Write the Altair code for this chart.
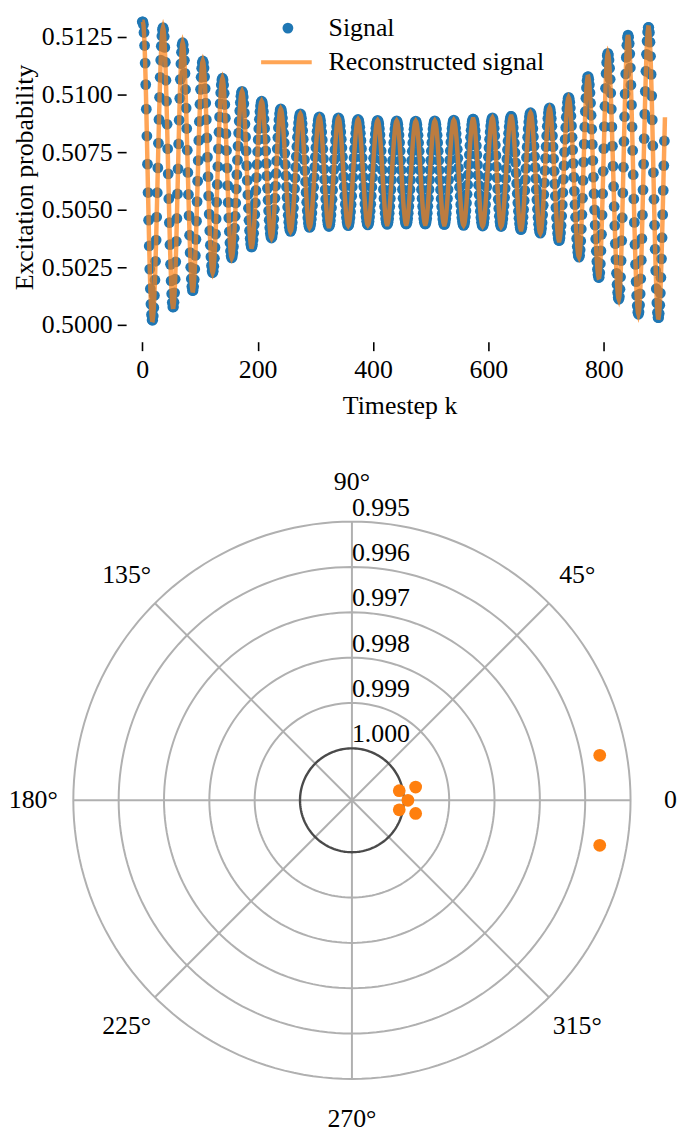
import numpy as np
import pandas as pd
import altair as alt

# ---------------- top panel: signal extremes ----------------
peak_k = [1, 36, 70, 105, 139, 173, 207, 240, 274, 307, 340, 374, 408, 441, 474, 507,
          540, 573.5, 607, 639.5, 673, 706, 739, 772.5, 807, 842, 877.5, 913]
peak_v = [0.51316, 0.51291, 0.51225, 0.51146, 0.51071, 0.51014, 0.50971, 0.50938,
          0.50916, 0.50903, 0.50899, 0.50892, 0.50888, 0.50886, 0.50885, 0.50886,
          0.50889, 0.50894, 0.50899, 0.50906, 0.50921, 0.50942, 0.50988, 0.51079,
          0.51179, 0.51258, 0.51294, 0.51300]
trough_k = [17.5, 53.5, 87.5, 122, 155, 189.5, 224, 257, 290, 323.5, 357, 391, 424.5,
            457.5, 490.5, 523.5, 557, 590, 622, 656.5, 690, 722.5, 757, 791.5, 826,
            860, 894.5]
trough_v = [0.50018, 0.50075, 0.50147, 0.50226, 0.50291, 0.50337, 0.50377, 0.50406,
            0.50423, 0.50427, 0.50431, 0.50434, 0.50436, 0.50437, 0.50437, 0.50435,
            0.50432, 0.50429, 0.50427, 0.50413, 0.50398, 0.50365, 0.50294, 0.50204,
            0.50111, 0.50046, 0.50029]
signal_last_k = 905
recon_last_k = 906

x_ticks = [0, 200, 400, 600, 800]
y_ticks = [0.5000, 0.5025, 0.5050, 0.5075, 0.5100, 0.5125]

# ---------------- bottom panel: polar plot ----------------
ring_vals = [0.995, 0.996, 0.997, 0.998, 0.999]
unit_circle_val = [1.000]
radial_tick_vals = [0.995, 0.996, 0.997, 0.998, 0.999, 1.000]
radial_tick_labels = ["0.995", "0.996", "0.997", "0.998", "0.999", "1.000"]
angle_vals = [0, 45, 90, 135, 180, 225, 270, 315]
angle_labels = ["0", "45°", "90°", "135°", "180°", "225°", "270°", "315°"]
eig_angle = [0.0, 11.4, -11.4, 11.7, -11.7, 10.3, -10.3]
eig_radius = [0.99991, 1.00008, 1.00008, 0.99971, 0.99971, 0.99559, 0.99559]
r_center = 1.001145  # radial value at the pole (inverted radial axis)

# ---------------- build the series from the extremes ----------------
ext = sorted(list(zip(peak_k, peak_v)) + list(zip(trough_k, trough_v)))
ek = np.array([e[0] for e in ext], dtype=float)
ev = np.array([e[1] for e in ext], dtype=float)


def shape(k):
    k = np.asarray(k, dtype=float)
    i = np.clip(np.searchsorted(ek, k, side="right") - 1, 0, len(ek) - 2)
    t = np.clip((k - ek[i]) / (ek[i + 1] - ek[i]), 0, 1)
    return ev[i] + (ev[i + 1] - ev[i]) * (1 - np.cos(np.pi * t)) / 2


k_sig = np.arange(0, signal_last_k + 1)
k_rec = np.arange(0, recon_last_k + 1)
sig = pd.DataFrame({"k": k_sig, "v": shape(k_sig), "s": "Signal"})
rec = pd.DataFrame({"k": k_rec, "v": shape(k_rec), "s": "Reconstructed signal"})

FONT = "Liberation Serif"
FS = 26

xs = alt.Scale(domain=[-28, 920], nice=False, zero=False)
ys = alt.Scale(domain=[0.499267, 0.513578], nice=False, zero=False)

x_enc = alt.X("k:Q", scale=xs,
              axis=alt.Axis(values=x_ticks, title="Timestep k", labelPadding=6,
                            titlePadding=10, format="d"))
y_enc = alt.Y("v:Q", scale=ys,
              axis=alt.Axis(values=y_ticks, format=".4f", title="Excitation probability",
                            labelPadding=5, titlePadding=4))

pts = alt.Chart(sig).mark_circle(size=118, opacity=1).encode(
    x=x_enc, y=y_enc,
    fill=alt.Fill("s:N", scale=alt.Scale(domain=["Signal"], range=["#1f77b4"]),
                  legend=alt.Legend(title=None, orient="none", legendX=150, legendY=3,
                                    padding=0, symbolSize=118, symbolType="circle",
                                    labelOffset=28, labelLimit=0, labelFont=FONT,
                                    labelFontSize=FS, labelColor="black")),
)
line = alt.Chart(rec).mark_line(strokeWidth=4.5, opacity=0.7).encode(
    x="k:Q", y="v:Q",
    stroke=alt.Stroke("s:N", scale=alt.Scale(domain=["Reconstructed signal"], range=["#ff7f0e"]),
                      legend=alt.Legend(title=None, orient="none", legendX=134, legendY=23,
                                        padding=0, symbolType="stroke", symbolSize=2600,
                                        symbolStrokeWidth=4, symbolOpacity=0.7,
                                        labelOffset=15, labelLimit=0, labelFont=FONT,
                                        labelFontSize=FS, labelColor="black")),
)
top = alt.layer(pts, line).properties(width=551, height=332)

# ---------------- polar panel drawn on x/y scales ----------------
R_PX = 280.7                      # pixel radius of the 0.995 ring
PW, PH = 455, 570                 # panel size
K = R_PX / (r_center - min(ring_vals))   # px per radial unit
px = alt.Scale(domain=[-PW / 2 / K, PW / 2 / K], nice=False, zero=False)
py = alt.Scale(domain=[-PH / 2 / K, PH / 2 / K], nice=False, zero=False)
LABEL_RHO = 321 / K

# circle outlines (geometry of the grid rings)
th = np.radians(np.arange(0, 361, 2))
ring_rows = []
for rv in ring_vals + unit_circle_val:
    rho = r_center - rv
    for i, t in enumerate(th):
        ring_rows.append({"ring": rv, "i": i, "x": rho * np.cos(t), "y": rho * np.sin(t),
                          "unit": rv in unit_circle_val})
ring_df = pd.DataFrame(ring_rows)

rings = alt.Chart(ring_df).transform_filter("!datum.unit").mark_line(
    stroke="#b0b0b0", strokeWidth=2).encode(
    x=alt.X("x:Q", scale=px, axis=None), y=alt.Y("y:Q", scale=py, axis=None),
    detail="ring:N", order="i:Q",
)
unit = alt.Chart(ring_df).transform_filter("datum.unit").mark_line(
    stroke="#4a4a4a", strokeWidth=2.4).encode(
    x=alt.X("x:Q", scale=px, axis=None), y=alt.Y("y:Q", scale=py, axis=None),
    detail="ring:N", order="i:Q",
)
rays = alt.Chart(pd.DataFrame({"a": angle_vals})).transform_calculate(
    x0="0", y0="0",
    x1=f"{r_center - min(ring_vals)} * cos(datum.a * PI / 180)",
    y1=f"{r_center - min(ring_vals)} * sin(datum.a * PI / 180)",
).mark_rule(stroke="#b0b0b0", strokeWidth=2).encode(
    x=alt.X("x0:Q", scale=px, axis=None), y=alt.Y("y0:Q", scale=py, axis=None),
    x2="x1:Q", y2="y1:Q",
)
eig = alt.Chart(pd.DataFrame({"a": eig_angle, "r": eig_radius})).transform_calculate(
    x=f"({r_center} - datum.r) * cos(datum.a * PI / 180)",
    y=f"({r_center} - datum.r) * sin(datum.a * PI / 180)",
).mark_circle(size=165, color="#ff7f0e", opacity=1).encode(
    x=alt.X("x:Q", scale=px, axis=None), y=alt.Y("y:Q", scale=py, axis=None),
)
rlab = alt.Chart(pd.DataFrame({"r": radial_tick_vals, "t": radial_tick_labels})).transform_calculate(
    x="0", y=f"{r_center} - datum.r",
).mark_text(font=FONT, fontSize=FS, color="black", align="left",
            baseline="alphabetic", dy=-6).encode(
    x=alt.X("x:Q", scale=px, axis=None), y=alt.Y("y:Q", scale=py, axis=None), text="t:N",
)
alab = alt.Chart(pd.DataFrame({"a": angle_vals, "t": angle_labels})).transform_calculate(
    x=f"{LABEL_RHO} * cos(datum.a * PI / 180)",
    y=f"{LABEL_RHO} * sin(datum.a * PI / 180)",
).mark_text(font=FONT, fontSize=FS, color="black", align="center",
            baseline="middle").encode(
    x=alt.X("x:Q", scale=px, axis=None), y=alt.Y("y:Q", scale=py, axis=None), text="t:N",
)
polar = alt.layer(rings, rays, unit, eig, rlab, alab).properties(width=PW, height=PH)

chart = alt.vconcat(top, polar, spacing=50).properties(padding=0).configure_view(
    stroke=None
).configure_axis(
    labelFont=FONT, labelFontSize=FS, titleFont=FONT, titleFontSize=FS,
    titleFontWeight="normal", labelColor="black", titleColor="black",
    tickColor="black", tickWidth=1.6, tickSize=9, domain=False, grid=False,
)

chart.save("out.html", embed_options={"renderer": "svg", "actions": False})
